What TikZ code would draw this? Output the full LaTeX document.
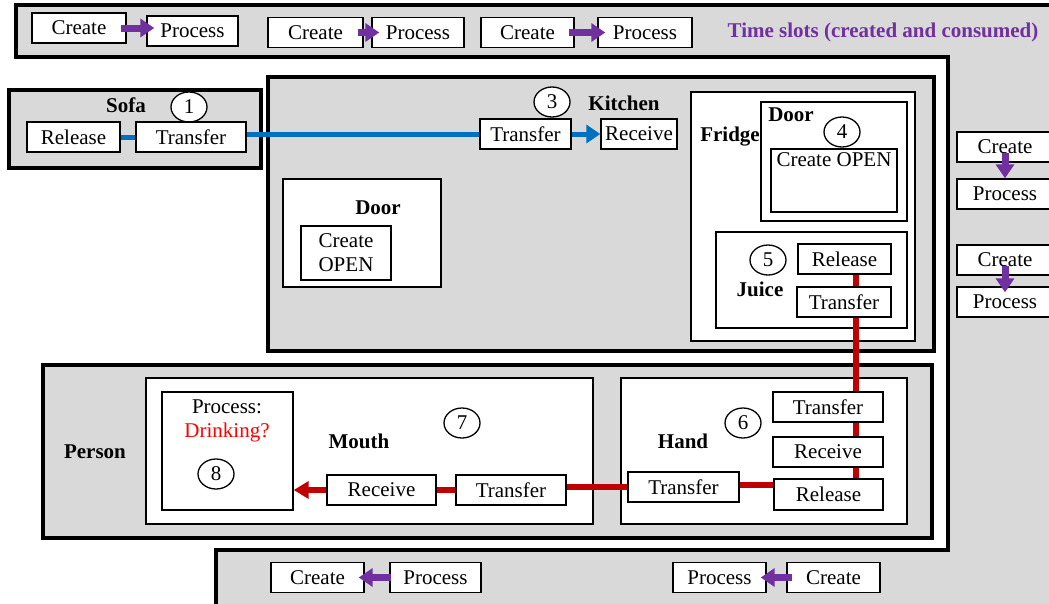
\documentclass[tikz,border=0pt]{standalone}
\usepackage{fontspec}
\setmainfont{Liberation Serif}
\usetikzlibrary{arrows.meta, positioning, shapes.geometric}
\definecolor{slot}{HTML}{D9D9D9}
\definecolor{tslot}{HTML}{7030A0}
\definecolor{flowb}{HTML}{0070C0}
\definecolor{flowr}{HTML}{C00000}
\tikzset{
  box/.style={draw=black, line width=1.4pt, fill=white, inner sep=0pt, minimum height=30pt},
  zone/.style={draw=black, line width=4pt, fill=slot},
  part/.style={draw=black, line width=1.6pt, fill=white},
  tag/.style={font=\fontsize{21}{24}\selectfont\bfseries},
  num/.style={draw=black, ellipse, fill=white, line width=1.3pt, minimum width=36pt, minimum height=30pt, inner sep=0pt},
  slotarrow/.style={tslot, line width=7pt, -{Triangle[length=14pt,width=18pt]}},
  bflow/.style={flowb, line width=5pt},
  rflow/.style={flowr, line width=6pt}
}
\begin{document}
\begin{tikzpicture}[x=1pt, y=-1pt, font=\fontsize{21}{24}\selectfont]
  \useasboundingbox (0,0) rectangle (1049,603);
  \clip (0,0) rectangle (1049,603);
  % time slot frame
  \draw[fill=slot, line width=4pt] (1060,5) -- (16,5) -- (16,57) -- (948,57) -- (948,550) -- (216,550) -- (216,610) -- (1060,610) -- cycle;
  \foreach \c/\cx/\cy/\cw/\p/\px/\py/\pw in {c1/79/28/94/p1/192.5/31/91, c2/315.5/32.5/95/p2/418/32.5/92, c3/527.5/32.5/93/p3/645/32.5/94}{
    \node[box, minimum width=\cw] (\c) at (\cx,\cy) {Create};
    \node[box, minimum width=\pw] (\p) at (\px,\py) {Process};
    \draw[slotarrow, shorten <=-6pt, shorten >=-8pt] (\c.east) -- (\c.east -| \p.west);}
  \node[tslot, font=\fontsize{21}{24}\selectfont\bfseries] (slotTitle) at (883,32) {Time slots (created and consumed)};
  \foreach \c/\p/\cy/\py/\sh in {rc1/rp1/147/194/0, rc2/rp2/260/302/-6}{
    \node[box, minimum width=96] (\c) at (1005,\cy) {Create};
    \node[box, minimum width=96] (\p) at (1005,\py) {Process};
    \draw[slotarrow, shorten <=-10pt, shorten >=\sh pt] (\c.south) -- (\p.north);}
  \node[box, minimum width=93] (bc1) at (317.5,577.5) {Create};
  \node[box, minimum width=91] (bp1) at (435.5,577.5) {Process};
  \node[box, minimum width=93] (bp2) at (719.5,577.5) {Process};
  \node[box, minimum width=93] (bc2) at (833.5,577.5) {Create};
  \draw[slotarrow, shorten <=-2pt, shorten >=-6pt] (bp1.west) -- (bc1.east);
  \draw[slotarrow, shorten <=-6pt, shorten >=-6pt] (bc2.west) -- (bp2.east);
  % sofa
  \draw[zone] (9,90) rectangle (261,168);
  \node[tag] (sofaTag) at (126,105) {Sofa};
  \node[num] (n1) at (189,107) {1};
  \node[box, minimum width=93] (sofaRel) at (73.5,137) {Release};
  \node[box, minimum width=110] (sofaTr) at (191,137) {Transfer};
  % kitchen
  \draw[zone] (268,77) rectangle (934,351);
  \node[num] (n3) at (552,102) {3};
  \node[tag] (kitTag) at (624,103) {Kitchen};
  \node[box, minimum width=91] (kTr) at (525.5,134) {Transfer};
  \node[box, minimum width=76] (kRec) at (639,134) {Receive};
  \draw[part] (283,179) rectangle (441,287);
  \node[tag] (doorTag) at (378,208) {Door};
  \node[box, minimum width=90, minimum height=54, align=center] (doorOpen) at (346,253) {Create\\OPEN};
  % fridge
  \draw[part] (691,92) rectangle (915,341);
  \draw[part] (761,102) rectangle (907,221);
  \node[tag] (fridgeTag) at (730,137) {Fridge};
  \node[tag] (fdoorTag) at (791,115) {Door};
  \node[num] (n4) at (842,132) {4};
  \node[box, minimum width=126, minimum height=63] (frOpen) at (834,180.5) {};
  \node[below=1pt] (frOpenTxt) at (frOpen.north) {Create OPEN};
  \draw[part] (716,232) rectangle (907,328);
  \node[num] (n5) at (768,260) {5};
  \node[tag] (juiceTag) at (760,289) {Juice};
  \node[box, minimum width=93] (jRel) at (844.5,259) {Release};
  \node[box, minimum width=94] (jTr) at (844,302) {Transfer};
  % person
  \draw[zone] (43,365) rectangle (932,538);
  \node[tag] (personTag) at (95,452) {Person};
  \draw[part] (146,378) rectangle (593,524);
  \node[tag] (mouthTag) at (359,441) {Mouth};
  \node[num] (n7) at (462,423) {7};
  \node[box, minimum width=131, minimum height=118] (proc) at (227.5,451) {};
  \node (procTxt) at (227,407) {Process:};
  \node[red] (procQ) at (227,432) {Drinking?};
  \node[num] (n8) at (216,474) {8};
  \node[box, minimum width=109] (mRec) at (381.5,490) {Receive};
  \node[box, minimum width=110] (mTr) at (511,490) {Transfer};
  \draw[part] (621,378) rectangle (907,524);
  \node[tag] (handTag) at (683,441) {Hand};
  \node[num] (n6) at (743,423) {6};
  \node[box, minimum width=110] (hTr) at (828,407) {Transfer};
  \node[box, minimum width=110] (hRec) at (828,452) {Receive};
  \node[box, minimum width=109, minimum height=31] (hRel) at (828.5,494.5) {Release};
  \node[box, minimum width=111] (hTr2) at (683.5,487) {Transfer};
  % flows
  \coordinate (juiceDrop) at (856,0);
  \draw[bflow] (sofaRel.east) -- (sofaTr.west);
  \draw[bflow] (kTr.west) -- (kTr.west -| sofaTr.east);
  \draw[bflow, -{Triangle[length=14pt,width=18pt]}] (kTr.east) -- (kRec.west);
  \foreach \a/\b in {jRel/jTr, jTr/hTr, hTr/hRec, hRec/hRel}{
    \draw[rflow] (\a.south -| juiceDrop) -- (\b.north -| juiceDrop);}
  \draw[rflow] ([yshift=2pt]hTr2.east) -- ([yshift=2pt]hTr2.east -| hRel.west);
  \draw[rflow] (hTr2.west) -- (hTr2.west -| mTr.east);
  \draw[rflow] (mTr.west) -- (mRec.east);
  \draw[rflow, -{Triangle[length=15pt,width=17pt]}] (mRec.west) -- (mRec.west -| proc.east);
\end{tikzpicture}
\end{document}
